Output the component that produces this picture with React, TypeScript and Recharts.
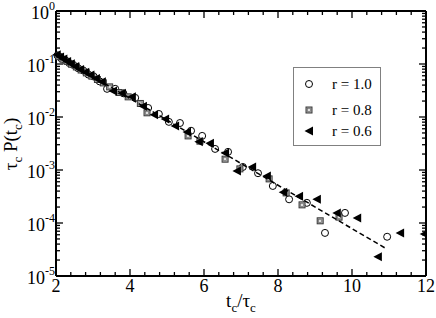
import { Legend, ReferenceLine, Scatter, ScatterChart, XAxis, YAxis } from "recharts";

// r = 1.0 (open circles)
const R10_X = [2.04, 2.14, 2.25, 2.36, 2.47, 2.6, 2.74, 2.88, 3.02, 3.18, 3.38, 3.6, 3.82, 4.14, 4.49, 4.78, 5.05, 5.35, 5.65, 5.95, 6.3, 6.65, 7.05, 7.46, 7.86, 8.3, 8.78, 9.27, 9.81, 10.95];
const R10_Y = [0.145, 0.128, 0.118, 0.104, 0.096, 0.083, 0.075, 0.063, 0.058, 0.047, 0.034, 0.034, 0.028, 0.023, 0.0148, 0.0114, 0.0081, 0.0077, 0.0055, 0.0044, 0.0025, 0.0022, 0.00114, 0.00087, 0.0005, 0.00028, 0.00024, 6.5e-5, 0.000155, 5.5e-5];

// r = 0.8 (grey squares)
const R08_X = [2.08, 2.19, 2.3, 2.42, 2.55, 2.68, 2.82, 2.97, 3.12, 3.28, 3.45, 3.7, 3.95, 4.28, 4.46, 5.57, 5.89, 6.57, 6.97, 7.76, 8.22, 8.65, 9.14, 9.65];
const R08_Y = [0.138, 0.123, 0.112, 0.099, 0.088, 0.077, 0.068, 0.059, 0.051, 0.044, 0.037, 0.029, 0.024, 0.018, 0.012, 0.0044, 0.0035, 0.0016, 0.00105, 0.00068, 0.00037, 0.00022, 0.00011, 0.000129];

// r = 0.6 (filled left triangles)
const R06_X = [2.02, 2.11, 2.2, 2.3, 2.4, 2.52, 2.65, 2.79, 2.93, 3.08, 3.24, 3.54, 3.78, 4.05, 4.35, 4.65, 4.95, 5.22, 5.54, 5.86, 6.16, 6.57, 6.89, 7.3, 7.7, 8.14, 8.57, 9.05, 9.59, 10.14, 10.7, 11.3, 11.95];
const R06_Y = [0.15, 0.136, 0.124, 0.111, 0.101, 0.09, 0.079, 0.07, 0.062, 0.053, 0.046, 0.031, 0.028, 0.024, 0.016, 0.011, 0.0092, 0.0068, 0.0052, 0.0034, 0.0032, 0.0021, 0.00096, 0.00114, 0.00077, 0.00038, 0.00032, 0.00028, 0.000155, 0.000124, 2.3e-5, 6.5e-5, 6.2e-5];

// dashed fit
const FIT_X = [2, 10.95];
const FIT_Y = [0.148, 3.2e-5];

const X_MAJOR = [2, 4, 6, 8, 10, 12];
const X_MINOR = [2.4, 2.8, 3.2, 3.6, 4.4, 4.8, 5.2, 5.6, 6.4, 6.8, 7.2, 7.6, 8.4, 8.8, 9.2, 9.6, 10.4, 10.8, 11.2, 11.6];
const Y_DECADES = [1e-5, 1e-4, 1e-3, 1e-2, 1e-1, 1];
const Y_MINOR = Y_DECADES.slice(0, -1).flatMap((d) => [2, 3, 4, 5, 6, 7, 8, 9].map((m) => m * d));

const zip = (xs: number[], ys: number[]) => xs.map((x, i) => ({ x, y: ys[i] }));
const r10 = zip(R10_X, R10_Y);
const r08 = zip(R08_X, R08_Y);
const r06 = zip(R06_X, R06_Y);
const fit = zip(FIT_X, FIT_Y);

const SERIF = "'Liberation Serif', 'Times New Roman', serif";
const PL = 56;
const PR = 426;
const PT = 11;
const PB = 276;

function CircleMark({ cx, cy }: { cx: number; cy: number }) {
  return <circle cx={cx} cy={cy} r={3.5} fill="#fff" stroke="#000" strokeWidth={1} />;
}

function SquareMark({ cx, cy }: { cx: number; cy: number }) {
  return (
    <g>
      <rect x={cx - 3} y={cy - 3} width={6} height={6} fill="#a8a8a8" stroke="#3a3a3a" strokeWidth={1} />
      <rect x={cx - 1.5} y={cy - 1.5} width={3} height={3} fill="#e0e0e0" stroke="#666" strokeWidth={0.6} />
    </g>
  );
}

// left-pointing triangle, cut at the right frame like the original plot
function TriMark({ cx, cy }: { cx: number; cy: number }) {
  const tip = cx - 4.5;
  const back = Math.min(cx + 4, PR);
  const h = (4.5 * (back - tip)) / 8.5;
  return <polygon points={`${tip},${cy} ${back},${cy - h} ${back},${cy + h}`} fill="#000" />;
}

function XTick(props: any) {
  const { payload } = props;
  const c = payload.coordinate ?? props.x;
  const major = X_MAJOR.includes(payload.value);
  const len = major ? 7 : 4;
  return (
    <g>
      <line x1={c} x2={c} y1={PB} y2={PB - len} stroke="#000" strokeWidth={1.3} />
      <line x1={c} x2={c} y1={PT} y2={PT + len} stroke="#000" strokeWidth={1.3} />
      {major && (
        <text x={c} y={292} textAnchor="middle" fontSize={18} fontFamily={SERIF} fill="#000">
          {payload.value}
        </text>
      )}
    </g>
  );
}

function YTick(props: any) {
  const { payload } = props;
  const c = payload.coordinate ?? props.y;
  const exp = Math.round(Math.log10(payload.value));
  const major = Math.abs(Math.log10(payload.value) - exp) < 1e-6;
  const len = major ? 7 : 4;
  return (
    <g>
      <line x1={PL} x2={PL + len} y1={c} y2={c} stroke="#000" strokeWidth={1.3} />
      <line x1={PR} x2={PR - len} y1={c} y2={c} stroke="#000" strokeWidth={1.3} />
      {major && (
        <text x={55} y={c + 8} textAnchor="end" fontSize={18} fontFamily={SERIF} fill="#000">
          10
          <tspan dy={-9} fontSize={12}>
            {exp}
          </tspan>
        </text>
      )}
    </g>
  );
}

function XTitle() {
  return (
    <text x={241} y={307} textAnchor="middle" fontSize={19} fontFamily={SERIF} fill="#000">
      t<tspan dy={5} fontSize={13}>c</tspan>
      <tspan dy={-5}>/τ</tspan>
      <tspan dy={5} fontSize={13}>c</tspan>
    </text>
  );
}

function YTitle() {
  return (
    <text transform="rotate(-90)" x={-144} y={17} textAnchor="middle" fontSize={19} fontFamily={SERIF} fill="#000">
      τ<tspan dy={5} fontSize={13}>c</tspan>
      <tspan dy={-5}> P(t</tspan>
      <tspan dy={5} fontSize={13}>c</tspan>
      <tspan dy={-5}>)</tspan>
    </text>
  );
}

function LegendBox() {
  const rows = [
    { label: "r = 1.0", Mark: CircleMark, cy: 17 },
    { label: "r = 0.8", Mark: SquareMark, cy: 43 },
    { label: "r = 0.6", Mark: TriMark, cy: 64 },
  ];
  return (
    <svg width={88} height={79} style={{ display: "block" }}>
      <rect x={0.5} y={0.5} width={87} height={78} fill="#fff" stroke="#808080" />
      {rows.map(({ label, Mark, cy }) => (
        <g key={label}>
          <Mark cx={16} cy={cy} />
          <text x={39} y={cy + 5} fontSize={15} fontFamily={SERIF} fill="#000">
            {label}
          </text>
        </g>
      ))}
    </svg>
  );
}

export default function App() {
  return (
    <div style={{ position: "absolute", left: 0, top: 0, background: "#fff" }}>
      <ScatterChart width={436} height={318} margin={{ top: 11, right: 10, bottom: 0, left: 0 }}>
        <XAxis
          type="number"
          dataKey="x"
          domain={[2, 12]}
          ticks={[...X_MAJOR, ...X_MINOR]}
          interval={0}
          height={42}
          tickLine={false}
          axisLine={{ stroke: "#000", strokeWidth: 2 }}
          tick={(p: any) => <XTick {...p} />}
          label={<XTitle />}
        />
        <YAxis
          type="number"
          dataKey="y"
          scale="log"
          domain={[1e-5, 1]}
          allowDataOverflow
          ticks={[...Y_DECADES, ...Y_MINOR]}
          interval={0}
          width={56}
          tickLine={false}
          axisLine={{ stroke: "#000", strokeWidth: 2 }}
          tick={(p: any) => <YTick {...p} />}
          label={<YTitle />}
        />
        <ReferenceLine y={1} stroke="#000" strokeWidth={2} />
        <ReferenceLine x={12} stroke="#000" strokeWidth={2} />
        <Scatter data={r10} isAnimationActive={false} shape={(p: any) => <CircleMark cx={p.cx} cy={p.cy} />} />
        <Scatter data={r08} isAnimationActive={false} shape={(p: any) => <SquareMark cx={p.cx} cy={p.cy} />} />
        <Scatter data={r06} isAnimationActive={false} shape={(p: any) => <TriMark cx={p.cx} cy={p.cy} />} />
        <Scatter
          data={fit}
          isAnimationActive={false}
          line={{ stroke: "#000", strokeWidth: 1.5, strokeDasharray: "5 3" }}
          shape={() => <g />}
        />
        <Legend
          layout="vertical"
          align="center"
          verticalAlign="middle"
          wrapperStyle={{ left: 293, top: 67, width: 88, height: 79 }}
          content={() => <LegendBox />}
        />
      </ScatterChart>
    </div>
  );
}
